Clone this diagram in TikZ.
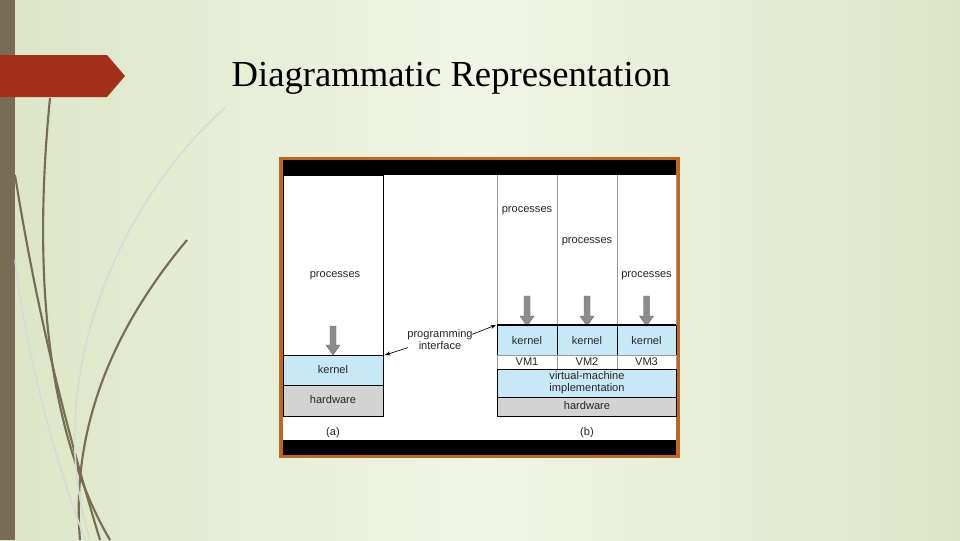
\documentclass[tikz,border=0pt]{standalone}
\usepackage{fontspec}
\setmainfont{Liberation Serif}
\setsansfont{Liberation Sans}
\usetikzlibrary{arrows.meta}
\definecolor{bgA}{HTML}{F1F5E6}
\definecolor{bgB}{HTML}{DCE6C6}
\definecolor{barbrown}{HTML}{776D55}
\definecolor{bannerred}{HTML}{A2301A}
\definecolor{frameorange}{HTML}{C0671E}
\definecolor{kernelblue}{HTML}{C7E8F7}
\definecolor{hwgray}{HTML}{D3D3D3}

\begin{document}
\begin{tikzpicture}[x=0.75pt, y=-0.75pt,
layer/.style={draw=black, line width=0.6pt},
lbl/.style={font=\sffamily\fontsize{8.3}{9}\selectfont, text=black!85},
down/.style={draw=black!60, fill=black!45, line width=0.3pt},
curve/.style={barbrown, line width=1.6pt},
pale/.style={black!15, line width=1.2pt}]

% BACKGROUND
\useasboundingbox (0,0) rectangle (960,540);
\shade[left color=bgB, right color=bgB, middle color=bgA] (0,0) rectangle (960,540);
\fill[barbrown] (0,0) rectangle (15,540);

% decorative strokes
\draw[curve] (50,98) .. controls (35,250) and (40,420) .. (110,540);
\draw[curve] (15,175) .. controls (40,330) and (70,440) .. (100,540);
\draw[curve] (187,240) .. controls (120,320) and (70,420) .. (80,540);
\draw[pale] (225,108) .. controls (120,200) and (40,380) .. (90,540);
\draw[pale] (15,260) .. controls (30,380) and (60,470) .. (85,540);

% banner and title
\fill[bannerred] (0,55) -- (107,55) -- (125,76) -- (107,97) -- (0,97) -- cycle;
\node (title) at (451,78) {\fontsize{27.5}{32}\selectfont Diagrammatic Representation};

% FRAME
\fill[frameorange] (279,157) rectangle (680,458);
\fill[white] (283,160) rectangle (676,455);
\fill[black] (283,160) rectangle (676,175);
\fill[black] (283,440) rectangle (676,455);

% (a) single machine
\draw[layer] (283,175) rectangle (383,355);
\draw[layer, fill=kernelblue] (283,355) rectangle (383,385);
\draw[layer, fill=hwgray] (283,385) rectangle (383,416);
\node[lbl] (procA) at (335,276) {processes};
\node[lbl] (kerA) at (333,370) {kernel};
\node[lbl] (hwA) at (333,400) {hardware};
\node[lbl] (capA) at (333,433) {(a)};
\draw[down] (330,326) -- (336,326) -- (336,345) -- (340,345) -- (333,355) -- (326,345) -- (330,345) -- cycle;

% (b) virtual machines
\foreach \xl/\xr/\py/\n in {497/557/211/1, 557/617/242/2, 617/676/276/3}{
  \draw[black!40, line width=0.6pt] (\xl,175) -- (\xl,325) -- (\xr,325) -- (\xr,175);
  \draw[layer, fill=kernelblue] (\xl,325) rectangle (\xr,355);
  \draw[black!40, line width=0.5pt] (\xl,355) rectangle (\xr,369);
  \node[lbl] (proc\n) at ({(\xl+\xr)/2},\py) {processes};
  \node[lbl] (ker\n) at ({(\xl+\xr)/2},341) {kernel};
  \node[lbl] (vm\n) at ({(\xl+\xr)/2},362) {VM\n};
  \draw[down] ({(\xl+\xr)/2-3},296) -- ({(\xl+\xr)/2+3},296) -- ({(\xl+\xr)/2+3},316)
    -- ({(\xl+\xr)/2+7},316) -- ({(\xl+\xr)/2},326) -- ({(\xl+\xr)/2-7},316) -- ({(\xl+\xr)/2-3},316) -- cycle;
}
\draw[black, line width=1.2pt] (497,325) -- (676,325);
\draw[layer, fill=kernelblue] (497,369) rectangle (676,397);
\draw[layer, fill=hwgray] (497,397) rectangle (676,416);
\node[lbl, align=center, inner sep=0pt] (vmi) at (587,383) {virtual-machine\\implementation};
\node[lbl] (hwB) at (587,406) {hardware};
\node[lbl] (capB) at (587,433) {(b)};

% programming interface
\node[lbl, align=center, inner sep=1pt] (api) at (440,340) {programming\\interface};
\coordinate (ifA) at (385,355);
\coordinate (ifB) at (496,325);
\draw[-{Stealth[length=4pt]}, line width=0.5pt] (api.south west) ++(2,-4) -- (ifA);
\draw[-{Stealth[length=4pt]}, line width=0.5pt] (api.north east) ++(-2,6) -- (ifB);
\end{tikzpicture}
\end{document}
